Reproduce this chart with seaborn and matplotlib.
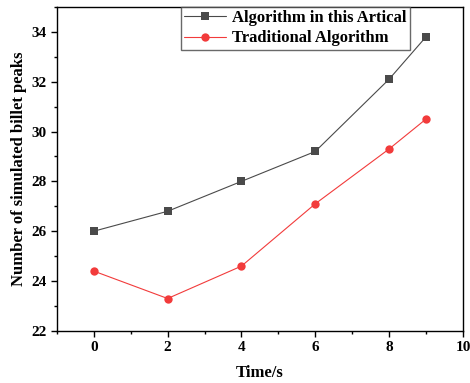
import pandas as pd
import matplotlib
matplotlib.use("Agg")
import matplotlib.pyplot as plt
import seaborn as sns
from matplotlib.ticker import MultipleLocator

time_s = [0, 2, 4, 6, 8, 9]
peaks_this = [26.0, 26.8, 28.0, 29.2, 32.1, 33.8]
peaks_trad = [24.4, 23.3, 24.6, 27.1, 29.3, 30.5]
names = ['Algorithm in this Artical', 'Traditional Algorithm']

df = pd.DataFrame({
    'Time/s': time_s * 2,
    'peaks': peaks_this + peaks_trad,
    'method': [names[0]] * len(time_s) + [names[1]] * len(time_s),
})

sns.set_style('ticks')
plt.rcParams['font.family'] = ['Liberation Serif', 'DejaVu Serif']
plt.rcParams['font.weight'] = 'bold'
plt.rcParams['text.color'] = 'black'
plt.rcParams['axes.labelcolor'] = 'black'
plt.rcParams['xtick.color'] = 'black'
plt.rcParams['ytick.color'] = 'black'

fig = plt.figure(figsize=(4.7, 3.83), dpi=100)
ax = fig.add_axes([0.121, 0.136, 0.864, 0.846])

sns.lineplot(data=df, x='Time/s', y='peaks', hue='method', style='method',
             palette=['#4a4a4a', '#f23b3b'], markers=['s', 'o'], dashes=False,
             markersize=6, markeredgewidth=0, linewidth=0.8, ax=ax)

ax.set_xlim(-1, 10)
ax.set_ylim(22, 35)
ax.xaxis.set_major_locator(MultipleLocator(2))
ax.xaxis.set_minor_locator(MultipleLocator(1))
ax.yaxis.set_major_locator(MultipleLocator(2))
ax.yaxis.set_minor_locator(MultipleLocator(1))
ax.tick_params(which='major', length=4, width=1, labelsize=11)
ax.tick_params(which='minor', length=2.5, width=1)
ax.tick_params(top=False, right=False)
for lab in ax.get_xticklabels() + ax.get_yticklabels():
    lab.set_fontweight('bold')
for s in ax.spines.values():
    s.set_visible(True)
    s.set_linewidth(1)
    s.set_color('black')

ax.set_xlabel('Time/s', fontsize=12, fontweight='bold', labelpad=8)
ax.set_ylabel('Number of simulated billet peaks', fontsize=12, fontweight='bold', labelpad=3)

leg = ax.legend(loc='upper left', bbox_to_anchor=(0.305, 1.0), fontsize=12,
                frameon=True, fancybox=False, handlelength=2.5,
                borderpad=0.2, labelspacing=0.25, handletextpad=0.4,
                borderaxespad=0)
leg.get_frame().set_edgecolor('#444444')
leg.get_frame().set_linewidth(1)
for t in leg.get_texts():
    t.set_fontweight('bold')

fig.savefig('out.png', dpi=100)
